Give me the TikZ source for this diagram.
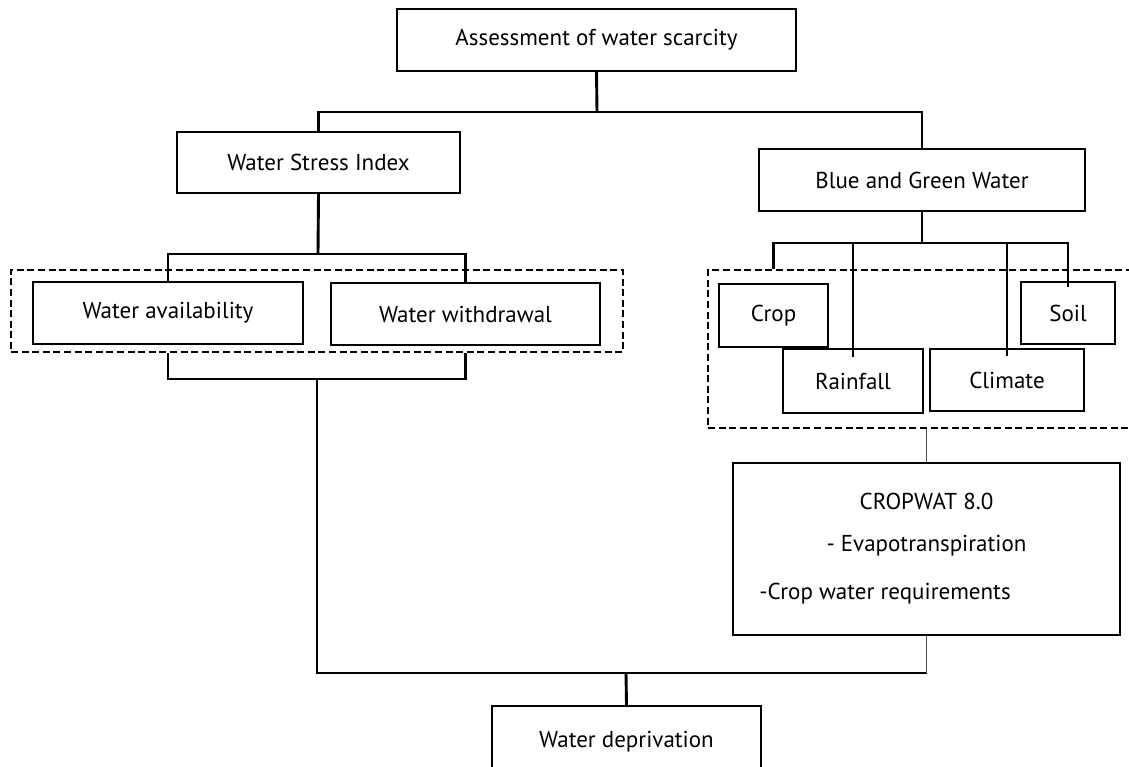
\documentclass[tikz,border=0pt]{standalone}
\usepackage{fontspec}
\setmainfont{PT Sans}

\tikzset{
  box/.style={draw, line width=0.85pt, inner sep=0pt, align=center,
    font=\fontsize{11.5}{14}\selectfont},
  group/.style={draw, line width=1.1pt, dash pattern=on 3.5pt off 1.8pt},
  link/.style={line width=1.45pt},
  thinlink/.style={line width=0.5pt, black!70},
}

\begin{document}
\begin{tikzpicture}[x=0.5pt, y=-0.5pt]
    \useasboundingbox (0,0) rectangle (1129,766);
    \clip (0,0) rectangle (1129,766);
    % Top level
    \node[box, minimum width=199.5pt, minimum height=31pt] (top) at (596.5,40) {Assessment of water scarcity};
    \node[box, minimum width=141.5pt, minimum height=30.5pt] (wsi) at (318.5,162.5) {Water Stress Index};
    \node[box, minimum width=163pt, minimum height=31pt] (bgw) at (922,180) {Blue and Green Water};
    % Water stress index inputs
    \node[group, minimum width=306pt, minimum height=41pt] (wsigroup) at (317,311) {};
    \node[box, minimum width=135pt, minimum height=31pt] (avail) at (168,313) {Water availability};
    \node[box, minimum width=134.5pt, minimum height=31pt] (withdraw) at (465.5,314) {Water withdrawal};
    % Blue and green water inputs
    \node[group, minimum width=231pt, minimum height=79pt] (bgwgroup) at (939,349) {};
    \node[box, minimum width=54.5pt, minimum height=31.5pt] (crop) at (773.5,315.5) {Crop};
    \node[box, minimum width=70pt, minimum height=32pt] (rain) at (853,381) {\raisebox{-4pt}{Rainfall}};
    \node[box, minimum width=77pt, minimum height=31pt] (climate) at (1007,380) {Climate};
    \node[box, minimum width=47pt, minimum height=31pt] (soil) at (1068,313) {Soil};
    % Model and result
    \node[box, minimum width=193.5pt, minimum height=86pt] (cropwat) at (926.5,549)
        {CROPWAT 8.0\\[7pt] - Evapotranspiration\\[10pt] -Crop water requirements\hspace*{41.5pt}};
    \node[box, minimum width=134.5pt, minimum height=36pt] (depriv) at (626.5,742) {Water deprivation};

    % Junctions
    \coordinate (j1) at (597,112);
    \coordinate (j2) at (318,254);
    \coordinate (j3) at (317,379);
    \coordinate (j4) at (626,673);
    \coordinate (j5) at (922,243);

    % Connectors
    \draw[link] (top.south) -- (j1);
    \draw[link] (wsi.north) |- (j1) -| (bgw.north);
    \draw[link] (wsi.south) -- (j2);
    \draw[link] (avail.north) |- (j2) -| (withdraw.north);
    \draw[link] (wsigroup.south -| avail) |- (j3) -| (wsigroup.south -| withdraw);
    \draw[link] (j3) |- (j4) -- (j4 -| cropwat.south);
    \draw[link] (j4) -- (depriv.north);
    \draw[link] (bgw.south) -- (j5);
    \draw[link] (crop.north |- bgwgroup.north) |- (j5) -| ([yshift=-3pt]soil.north);
    \draw[link] ([yshift=-4.5pt]rain.north) |- (j5);
    \draw[link] ([yshift=-4pt]climate.north) |- (j5);
    \draw[thinlink] (bgwgroup.south -| cropwat.north) -- (cropwat.north);
    \draw[thinlink] (cropwat.south) -- (cropwat.south |- j4);
\end{tikzpicture}
\end{document}
